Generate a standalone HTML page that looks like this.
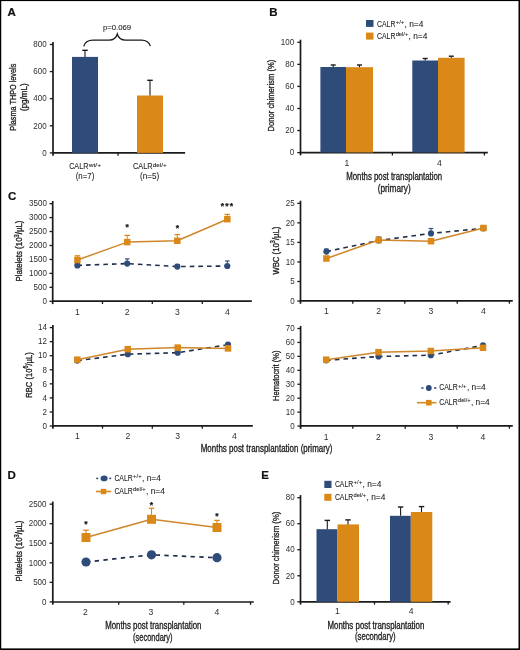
<!DOCTYPE html>
<html><head><meta charset="utf-8"><title>Figure</title>
<style>
html,body{margin:0;padding:0;background:#fff;}
body{width:520px;height:650px;overflow:hidden;}
svg{display:block;font-family:"Liberation Sans", sans-serif;will-change:transform;}
text{stroke:#222;stroke-width:0.22px;}
text.n{stroke-width:0;fill:#2e2e2e;}
text.l{stroke-width:0.08px;}
text.t{stroke-width:0.32px;}
</style></head>
<body>
<svg width="520" height="650" viewBox="0 0 520 650" fill="#222222">
<rect x="0" y="0" width="520" height="650" fill="#fff"/>
<text x="7.4" y="15.8" font-size="11.5" font-weight="bold" fill="#111">A</text>
<line x1="53" y1="41.9" x2="53" y2="155.7" stroke="#1a1a1a" stroke-width="1.7" />
<line x1="49.8" y1="44.5" x2="53" y2="44.5" stroke="#1a1a1a" stroke-width="1.3" />
<text x="46.6" y="47.25" font-size="8.6" class="n" text-anchor="end" textLength="13.35" lengthAdjust="spacingAndGlyphs">800</text>
<line x1="49.8" y1="71.6" x2="53" y2="71.6" stroke="#1a1a1a" stroke-width="1.3" />
<text x="46.6" y="74.35" font-size="8.6" class="n" text-anchor="end" textLength="13.35" lengthAdjust="spacingAndGlyphs">600</text>
<line x1="49.8" y1="98.7" x2="53" y2="98.7" stroke="#1a1a1a" stroke-width="1.3" />
<text x="46.6" y="101.45" font-size="8.6" class="n" text-anchor="end" textLength="13.35" lengthAdjust="spacingAndGlyphs">400</text>
<line x1="49.8" y1="125.8" x2="53" y2="125.8" stroke="#1a1a1a" stroke-width="1.3" />
<text x="46.6" y="128.55" font-size="8.6" class="n" text-anchor="end" textLength="13.35" lengthAdjust="spacingAndGlyphs">200</text>
<line x1="49.8" y1="152.9" x2="53" y2="152.9" stroke="#1a1a1a" stroke-width="1.3" />
<text x="46.6" y="155.65" font-size="8.6" class="n" text-anchor="end" textLength="4.45" lengthAdjust="spacingAndGlyphs">0</text>
<line x1="53" y1="152.9" x2="185.1" y2="152.9" stroke="#1a1a1a" stroke-width="1.7" />
<line x1="118" y1="152.9" x2="118" y2="155.7" stroke="#1a1a1a" stroke-width="1.3" />
<rect x="72" y="56.9" width="26" height="96" fill="#2e4b7a"/>
<rect x="137" y="95.5" width="26" height="57.4" fill="#da8918"/>
<line x1="85" y1="56.9" x2="85" y2="50.3" stroke="#1a1a1a" stroke-width="1.1" />
<line x1="82.25" y1="50.3" x2="87.75" y2="50.3" stroke="#1a1a1a" stroke-width="1.4" />
<line x1="150" y1="95.5" x2="150" y2="80.3" stroke="#1a1a1a" stroke-width="1.1" />
<line x1="147.25" y1="80.3" x2="152.75" y2="80.3" stroke="#1a1a1a" stroke-width="1.4" />
<path d="M83.7,46.3 C84.8,42 87.5,40.1 93,40.1 L109,40.1 C113.5,40.1 116.2,38 117.3,34 C118.4,38 121.1,40.1 125.6,40.1 L141.5,40.1 C146.8,40.1 149.3,42.3 150.4,46.2" fill="none" stroke="#1a1a1a" stroke-width="1.25"/>
<text x="102.9" y="30.2" font-size="7.8" class="l" textLength="28.3" lengthAdjust="spacingAndGlyphs">p=0.069</text>
<text x="15.9" y="97.2" font-size="9" class="t" text-anchor="middle" textLength="67" lengthAdjust="spacingAndGlyphs" transform="rotate(-90 15.9 97.2)">Plasma THPO levels</text>
<text x="26.9" y="97.2" font-size="9" class="t" text-anchor="middle" textLength="27.6" lengthAdjust="spacingAndGlyphs" transform="rotate(-90 26.9 97.2)">(pg/mL)</text>
<text x="69.15" y="169.4" font-size="8.9" class="l" textLength="19.3" lengthAdjust="spacingAndGlyphs">CALR</text>
<text x="88.65" y="166.6" font-size="6.2" class="l" textLength="12.4" lengthAdjust="spacingAndGlyphs">wt/+</text>
<text x="85" y="178.7" font-size="8.8" class="l" text-anchor="middle" textLength="18.6" lengthAdjust="spacingAndGlyphs">(n=7)</text>
<text x="133" y="169.4" font-size="8.9" class="l" textLength="19.6" lengthAdjust="spacingAndGlyphs">CALR</text>
<text x="152.8" y="166.6" font-size="6.2" class="l" textLength="14" lengthAdjust="spacingAndGlyphs">del/+</text>
<text x="149.7" y="178.7" font-size="8.8" class="l" text-anchor="middle" textLength="19.2" lengthAdjust="spacingAndGlyphs">(n=5)</text>
<text x="269.3" y="16.2" font-size="11.5" font-weight="bold" fill="#111">B</text>
<line x1="300.5" y1="39.7" x2="300.5" y2="155.4" stroke="#1a1a1a" stroke-width="1.7" />
<line x1="297.3" y1="42.3" x2="300.5" y2="42.3" stroke="#1a1a1a" stroke-width="1.3" />
<text x="294.2" y="45.05" font-size="8.6" class="n" text-anchor="end" textLength="13.35" lengthAdjust="spacingAndGlyphs">100</text>
<line x1="297.3" y1="64.36" x2="300.5" y2="64.36" stroke="#1a1a1a" stroke-width="1.3" />
<text x="294.2" y="67.11" font-size="8.6" class="n" text-anchor="end" textLength="8.9" lengthAdjust="spacingAndGlyphs">80</text>
<line x1="297.3" y1="86.42" x2="300.5" y2="86.42" stroke="#1a1a1a" stroke-width="1.3" />
<text x="294.2" y="89.17" font-size="8.6" class="n" text-anchor="end" textLength="8.9" lengthAdjust="spacingAndGlyphs">60</text>
<line x1="297.3" y1="108.48" x2="300.5" y2="108.48" stroke="#1a1a1a" stroke-width="1.3" />
<text x="294.2" y="111.23" font-size="8.6" class="n" text-anchor="end" textLength="8.9" lengthAdjust="spacingAndGlyphs">40</text>
<line x1="297.3" y1="130.54" x2="300.5" y2="130.54" stroke="#1a1a1a" stroke-width="1.3" />
<text x="294.2" y="133.29" font-size="8.6" class="n" text-anchor="end" textLength="8.9" lengthAdjust="spacingAndGlyphs">20</text>
<line x1="297.3" y1="152.6" x2="300.5" y2="152.6" stroke="#1a1a1a" stroke-width="1.3" />
<text x="294.2" y="155.35" font-size="8.6" class="n" text-anchor="end" textLength="4.45" lengthAdjust="spacingAndGlyphs">0</text>
<line x1="300.5" y1="152.7" x2="487.8" y2="152.7" stroke="#1a1a1a" stroke-width="1.7" />
<line x1="392.4" y1="152.7" x2="392.4" y2="155.5" stroke="#1a1a1a" stroke-width="1.3" />
<line x1="484.4" y1="152.7" x2="484.4" y2="155.5" stroke="#1a1a1a" stroke-width="1.3" />
<rect x="320.4" y="67" width="25.6" height="85.5" fill="#2e4b7a"/>
<rect x="346" y="67.2" width="27" height="85.3" fill="#da8918"/>
<rect x="412.3" y="60.5" width="25.7" height="92" fill="#2e4b7a"/>
<rect x="438" y="57.8" width="26.6" height="94.7" fill="#da8918"/>
<line x1="333.2" y1="67" x2="333.2" y2="65" stroke="#1a1a1a" stroke-width="1.1" />
<line x1="330.7" y1="65" x2="335.7" y2="65" stroke="#1a1a1a" stroke-width="1.4" />
<line x1="359.5" y1="67.2" x2="359.5" y2="65" stroke="#1a1a1a" stroke-width="1.1" />
<line x1="357" y1="65" x2="362" y2="65" stroke="#1a1a1a" stroke-width="1.4" />
<line x1="425.2" y1="60.5" x2="425.2" y2="58.5" stroke="#1a1a1a" stroke-width="1.1" />
<line x1="422.7" y1="58.5" x2="427.7" y2="58.5" stroke="#1a1a1a" stroke-width="1.4" />
<line x1="451.3" y1="57.8" x2="451.3" y2="56.2" stroke="#1a1a1a" stroke-width="1.1" />
<line x1="448.8" y1="56.2" x2="453.8" y2="56.2" stroke="#1a1a1a" stroke-width="1.4" />
<rect x="366" y="20" width="7.5" height="6.9" fill="#2e4b7a"/>
<rect x="366" y="32.6" width="7.5" height="7" fill="#da8918"/>
<text x="377" y="26.6" font-size="8.6" class="l" textLength="18.4" lengthAdjust="spacingAndGlyphs">CALR</text>
<text x="395.7" y="23.7" font-size="5.9" class="l" textLength="8.6" lengthAdjust="spacingAndGlyphs">+/+</text>
<text x="404.6" y="26.6" font-size="8.6" class="l" textLength="18.8" lengthAdjust="spacingAndGlyphs">, n=4</text>
<text x="377" y="38.9" font-size="8.6" class="l" textLength="18.4" lengthAdjust="spacingAndGlyphs">CALR</text>
<text x="395.7" y="36" font-size="5.9" class="l" textLength="12.6" lengthAdjust="spacingAndGlyphs">del/+</text>
<text x="408.6" y="38.9" font-size="8.6" class="l" textLength="18.8" lengthAdjust="spacingAndGlyphs">, n=4</text>
<text x="347" y="165.8" font-size="8.6" class="n" text-anchor="middle">1</text>
<text x="439.5" y="165.8" font-size="8.6" class="n" text-anchor="middle">4</text>
<text x="394.2" y="179.9" font-size="10" class="t" text-anchor="middle" textLength="96" lengthAdjust="spacingAndGlyphs">Months post transplantation</text>
<text x="394.2" y="191.7" font-size="10" class="t" text-anchor="middle" textLength="33" lengthAdjust="spacingAndGlyphs">(primary)</text>
<text x="274.2" y="95.6" font-size="9" class="t" text-anchor="middle" textLength="72" lengthAdjust="spacingAndGlyphs" transform="rotate(-90 274.2 95.6)">Donor chimerism (%)</text>
<text x="8" y="199.9" font-size="11.5" font-weight="bold" fill="#111">C</text>
<line x1="52.7" y1="201.05" x2="52.7" y2="304.1" stroke="#1a1a1a" stroke-width="1.7" />
<line x1="49.5" y1="203.65" x2="52.7" y2="203.65" stroke="#1a1a1a" stroke-width="1.3" />
<text x="46.9" y="206.4" font-size="8.6" class="n" text-anchor="end" textLength="17.8" lengthAdjust="spacingAndGlyphs">3500</text>
<line x1="49.5" y1="217.6" x2="52.7" y2="217.6" stroke="#1a1a1a" stroke-width="1.3" />
<text x="46.9" y="220.35" font-size="8.6" class="n" text-anchor="end" textLength="17.8" lengthAdjust="spacingAndGlyphs">3000</text>
<line x1="49.5" y1="231.55" x2="52.7" y2="231.55" stroke="#1a1a1a" stroke-width="1.3" />
<text x="46.9" y="234.3" font-size="8.6" class="n" text-anchor="end" textLength="17.8" lengthAdjust="spacingAndGlyphs">2500</text>
<line x1="49.5" y1="245.5" x2="52.7" y2="245.5" stroke="#1a1a1a" stroke-width="1.3" />
<text x="46.9" y="248.25" font-size="8.6" class="n" text-anchor="end" textLength="17.8" lengthAdjust="spacingAndGlyphs">2000</text>
<line x1="49.5" y1="259.45" x2="52.7" y2="259.45" stroke="#1a1a1a" stroke-width="1.3" />
<text x="46.9" y="262.2" font-size="8.6" class="n" text-anchor="end" textLength="17.8" lengthAdjust="spacingAndGlyphs">1500</text>
<line x1="49.5" y1="273.4" x2="52.7" y2="273.4" stroke="#1a1a1a" stroke-width="1.3" />
<text x="46.9" y="276.15" font-size="8.6" class="n" text-anchor="end" textLength="17.8" lengthAdjust="spacingAndGlyphs">1000</text>
<line x1="49.5" y1="287.35" x2="52.7" y2="287.35" stroke="#1a1a1a" stroke-width="1.3" />
<text x="46.9" y="290.1" font-size="8.6" class="n" text-anchor="end" textLength="13.35" lengthAdjust="spacingAndGlyphs">500</text>
<line x1="49.5" y1="301.3" x2="52.7" y2="301.3" stroke="#1a1a1a" stroke-width="1.3" />
<text x="46.9" y="304.05" font-size="8.6" class="n" text-anchor="end" textLength="4.45" lengthAdjust="spacingAndGlyphs">0</text>
<line x1="52.7" y1="301.2" x2="251.8" y2="301.2" stroke="#1a1a1a" stroke-width="1.7" />
<line x1="102.5" y1="301.2" x2="102.5" y2="304" stroke="#1a1a1a" stroke-width="1.3" />
<line x1="152.3" y1="301.2" x2="152.3" y2="304" stroke="#1a1a1a" stroke-width="1.3" />
<line x1="202.3" y1="301.2" x2="202.3" y2="304" stroke="#1a1a1a" stroke-width="1.3" />
<text x="77.4" y="314.8" font-size="8.6" class="n" text-anchor="middle">1</text>
<text x="127.2" y="314.8" font-size="8.6" class="n" text-anchor="middle">2</text>
<text x="177.3" y="314.8" font-size="8.6" class="n" text-anchor="middle">3</text>
<text x="227.3" y="314.8" font-size="8.6" class="n" text-anchor="middle">4</text>
<polyline points="77.4,265.4 127.2,263.6 177.3,266.6 227.3,266" fill="none" stroke="#202d4c" stroke-width="1.6" stroke-dasharray="4.6,4.05" stroke-linejoin="round"/>
<line x1="77.4" y1="265.4" x2="77.4" y2="262.5" stroke="#2e4b7a" stroke-width="1" />
<line x1="75.15" y1="262.5" x2="79.65" y2="262.5" stroke="#2e4b7a" stroke-width="1.2" />
<circle cx="77.4" cy="265.4" r="3.1" fill="#2e4b7a"/>
<line x1="127.2" y1="263.6" x2="127.2" y2="258.9" stroke="#2e4b7a" stroke-width="1" />
<line x1="124.95" y1="258.9" x2="129.45" y2="258.9" stroke="#2e4b7a" stroke-width="1.2" />
<circle cx="127.2" cy="263.6" r="3.1" fill="#2e4b7a"/>
<line x1="177.3" y1="266.6" x2="177.3" y2="264.5" stroke="#2e4b7a" stroke-width="1" />
<line x1="175.05" y1="264.5" x2="179.55" y2="264.5" stroke="#2e4b7a" stroke-width="1.2" />
<circle cx="177.3" cy="266.6" r="3.1" fill="#2e4b7a"/>
<line x1="227.3" y1="266" x2="227.3" y2="261" stroke="#2e4b7a" stroke-width="1" />
<line x1="225.05" y1="261" x2="229.55" y2="261" stroke="#2e4b7a" stroke-width="1.2" />
<circle cx="227.3" cy="266" r="3.1" fill="#2e4b7a"/>
<polyline points="77.4,260 127.2,242.1 177.3,240.8 227.3,219.2" fill="none" stroke="#d0862a" stroke-width="1.5" stroke-linejoin="round"/>
<line x1="77.4" y1="260" x2="77.4" y2="255.8" stroke="#da8918" stroke-width="1" />
<line x1="74.65" y1="255.8" x2="80.15" y2="255.8" stroke="#da8918" stroke-width="1.3" />
<rect x="74.15" y="256.75" width="6.5" height="6.5" fill="#da8918"/>
<line x1="127.2" y1="242.1" x2="127.2" y2="235.4" stroke="#da8918" stroke-width="1" />
<line x1="124.45" y1="235.4" x2="129.95" y2="235.4" stroke="#da8918" stroke-width="1.3" />
<rect x="123.95" y="238.85" width="6.5" height="6.5" fill="#da8918"/>
<line x1="177.3" y1="240.8" x2="177.3" y2="234.6" stroke="#da8918" stroke-width="1" />
<line x1="174.55" y1="234.6" x2="180.05" y2="234.6" stroke="#da8918" stroke-width="1.3" />
<rect x="174.05" y="237.55" width="6.5" height="6.5" fill="#da8918"/>
<line x1="227.3" y1="219.2" x2="227.3" y2="214.4" stroke="#da8918" stroke-width="1" />
<line x1="224.55" y1="214.4" x2="230.05" y2="214.4" stroke="#da8918" stroke-width="1.3" />
<rect x="224.05" y="215.95" width="6.5" height="6.5" fill="#da8918"/>
<text x="125.57" y="229.59" font-size="8.6" font-weight="bold" fill="#111">*</text>
<text x="175.67" y="230.79" font-size="8.6" font-weight="bold" fill="#111">*</text>
<text x="220.77" y="208.99" font-size="8.6" font-weight="bold" fill="#111">*</text>
<text x="225.27" y="208.99" font-size="8.6" font-weight="bold" fill="#111">*</text>
<text x="229.77" y="208.99" font-size="8.6" font-weight="bold" fill="#111">*</text>
<text x="22.2" y="251" font-size="9" class="t" text-anchor="middle" textLength="61" lengthAdjust="spacingAndGlyphs" transform="rotate(-90 22.2 251)">Platelets (10<tspan font-size="6.4" dy="-3.2">3</tspan><tspan dy="3.2">/µL)</tspan></text>
<line x1="300.5" y1="200.7" x2="300.5" y2="303.8" stroke="#1a1a1a" stroke-width="1.7" />
<line x1="297.3" y1="203.3" x2="300.5" y2="203.3" stroke="#1a1a1a" stroke-width="1.3" />
<text x="294.7" y="206.05" font-size="8.6" class="n" text-anchor="end" textLength="8.9" lengthAdjust="spacingAndGlyphs">25</text>
<line x1="297.3" y1="222.85" x2="300.5" y2="222.85" stroke="#1a1a1a" stroke-width="1.3" />
<text x="294.7" y="225.6" font-size="8.6" class="n" text-anchor="end" textLength="8.9" lengthAdjust="spacingAndGlyphs">20</text>
<line x1="297.3" y1="242.4" x2="300.5" y2="242.4" stroke="#1a1a1a" stroke-width="1.3" />
<text x="294.7" y="245.15" font-size="8.6" class="n" text-anchor="end" textLength="8.9" lengthAdjust="spacingAndGlyphs">15</text>
<line x1="297.3" y1="261.95" x2="300.5" y2="261.95" stroke="#1a1a1a" stroke-width="1.3" />
<text x="294.7" y="264.7" font-size="8.6" class="n" text-anchor="end" textLength="8.9" lengthAdjust="spacingAndGlyphs">10</text>
<line x1="297.3" y1="281.5" x2="300.5" y2="281.5" stroke="#1a1a1a" stroke-width="1.3" />
<text x="294.7" y="284.25" font-size="8.6" class="n" text-anchor="end" textLength="4.45" lengthAdjust="spacingAndGlyphs">5</text>
<line x1="297.3" y1="301.05" x2="300.5" y2="301.05" stroke="#1a1a1a" stroke-width="1.3" />
<text x="294.7" y="303.8" font-size="8.6" class="n" text-anchor="end" textLength="4.45" lengthAdjust="spacingAndGlyphs">0</text>
<line x1="300.5" y1="300.9" x2="512.8" y2="300.9" stroke="#1a1a1a" stroke-width="1.7" />
<line x1="352.8" y1="300.9" x2="352.8" y2="303.7" stroke="#1a1a1a" stroke-width="1.3" />
<line x1="404.8" y1="300.9" x2="404.8" y2="303.7" stroke="#1a1a1a" stroke-width="1.3" />
<line x1="457.2" y1="300.9" x2="457.2" y2="303.7" stroke="#1a1a1a" stroke-width="1.3" />
<line x1="509.4" y1="300.9" x2="509.4" y2="303.7" stroke="#1a1a1a" stroke-width="1.3" />
<text x="326.4" y="313.9" font-size="8.6" class="n" text-anchor="middle">1</text>
<text x="378.7" y="313.9" font-size="8.6" class="n" text-anchor="middle">2</text>
<text x="431" y="313.9" font-size="8.6" class="n" text-anchor="middle">3</text>
<text x="483.4" y="313.9" font-size="8.6" class="n" text-anchor="middle">4</text>
<polyline points="326.4,251.6 378.7,240.5 431,233.4 483.4,228.3" fill="none" stroke="#202d4c" stroke-width="1.6" stroke-dasharray="4.6,4.05" stroke-linejoin="round"/>
<line x1="326.4" y1="251.6" x2="326.4" y2="249" stroke="#2e4b7a" stroke-width="1" />
<line x1="324.15" y1="249" x2="328.65" y2="249" stroke="#2e4b7a" stroke-width="1.2" />
<circle cx="326.4" cy="251.6" r="3.1" fill="#2e4b7a"/>
<line x1="378.7" y1="240.5" x2="378.7" y2="237" stroke="#2e4b7a" stroke-width="1" />
<line x1="376.45" y1="237" x2="380.95" y2="237" stroke="#2e4b7a" stroke-width="1.2" />
<circle cx="378.7" cy="240.5" r="3.1" fill="#2e4b7a"/>
<line x1="431" y1="233.4" x2="431" y2="228.5" stroke="#2e4b7a" stroke-width="1" />
<line x1="428.75" y1="228.5" x2="433.25" y2="228.5" stroke="#2e4b7a" stroke-width="1.2" />
<circle cx="431" cy="233.4" r="3.1" fill="#2e4b7a"/>
<line x1="483.4" y1="228.3" x2="483.4" y2="226" stroke="#2e4b7a" stroke-width="1" />
<line x1="481.15" y1="226" x2="485.65" y2="226" stroke="#2e4b7a" stroke-width="1.2" />
<circle cx="483.4" cy="228.3" r="3.1" fill="#2e4b7a"/>
<polyline points="326.4,258.5 378.7,240 431,241.2 483.4,228" fill="none" stroke="#d0862a" stroke-width="1.5" stroke-linejoin="round"/>
<line x1="326.4" y1="258.5" x2="326.4" y2="256.5" stroke="#da8918" stroke-width="1" />
<line x1="323.9" y1="256.5" x2="328.9" y2="256.5" stroke="#da8918" stroke-width="1.3" />
<rect x="323.15" y="255.25" width="6.5" height="6.5" fill="#da8918"/>
<line x1="378.7" y1="240" x2="378.7" y2="237.5" stroke="#da8918" stroke-width="1" />
<line x1="376.2" y1="237.5" x2="381.2" y2="237.5" stroke="#da8918" stroke-width="1.3" />
<rect x="375.45" y="236.75" width="6.5" height="6.5" fill="#da8918"/>
<line x1="431" y1="241.2" x2="431" y2="239.5" stroke="#da8918" stroke-width="1" />
<line x1="428.5" y1="239.5" x2="433.5" y2="239.5" stroke="#da8918" stroke-width="1.3" />
<rect x="427.75" y="237.95" width="6.5" height="6.5" fill="#da8918"/>
<line x1="483.4" y1="228" x2="483.4" y2="227" stroke="#da8918" stroke-width="1" />
<line x1="480.9" y1="227" x2="485.9" y2="227" stroke="#da8918" stroke-width="1.3" />
<rect x="480.15" y="224.75" width="6.5" height="6.5" fill="#da8918"/>
<text x="278.6" y="250.6" font-size="9" class="t" text-anchor="middle" textLength="48" lengthAdjust="spacingAndGlyphs" transform="rotate(-90 278.6 250.6)">WBC (10<tspan font-size="6.4" dy="-3.2">3</tspan><tspan dy="3.2">/µL)</tspan></text>
<line x1="52.9" y1="325" x2="52.9" y2="428.8" stroke="#1a1a1a" stroke-width="1.7" />
<line x1="49.7" y1="327.6" x2="52.9" y2="327.6" stroke="#1a1a1a" stroke-width="1.3" />
<text x="46.9" y="330.35" font-size="8.6" class="n" text-anchor="end" textLength="8.9" lengthAdjust="spacingAndGlyphs">14</text>
<line x1="49.7" y1="341.66" x2="52.9" y2="341.66" stroke="#1a1a1a" stroke-width="1.3" />
<text x="46.9" y="344.41" font-size="8.6" class="n" text-anchor="end" textLength="8.9" lengthAdjust="spacingAndGlyphs">12</text>
<line x1="49.7" y1="355.72" x2="52.9" y2="355.72" stroke="#1a1a1a" stroke-width="1.3" />
<text x="46.9" y="358.47" font-size="8.6" class="n" text-anchor="end" textLength="8.9" lengthAdjust="spacingAndGlyphs">10</text>
<line x1="49.7" y1="369.78" x2="52.9" y2="369.78" stroke="#1a1a1a" stroke-width="1.3" />
<text x="46.9" y="372.53" font-size="8.6" class="n" text-anchor="end" textLength="4.45" lengthAdjust="spacingAndGlyphs">8</text>
<line x1="49.7" y1="383.84" x2="52.9" y2="383.84" stroke="#1a1a1a" stroke-width="1.3" />
<text x="46.9" y="386.59" font-size="8.6" class="n" text-anchor="end" textLength="4.45" lengthAdjust="spacingAndGlyphs">6</text>
<line x1="49.7" y1="397.9" x2="52.9" y2="397.9" stroke="#1a1a1a" stroke-width="1.3" />
<text x="46.9" y="400.65" font-size="8.6" class="n" text-anchor="end" textLength="4.45" lengthAdjust="spacingAndGlyphs">4</text>
<line x1="49.7" y1="411.96" x2="52.9" y2="411.96" stroke="#1a1a1a" stroke-width="1.3" />
<text x="46.9" y="414.71" font-size="8.6" class="n" text-anchor="end" textLength="4.45" lengthAdjust="spacingAndGlyphs">2</text>
<line x1="49.7" y1="426.02" x2="52.9" y2="426.02" stroke="#1a1a1a" stroke-width="1.3" />
<text x="46.9" y="428.77" font-size="8.6" class="n" text-anchor="end" textLength="4.45" lengthAdjust="spacingAndGlyphs">0</text>
<line x1="52.9" y1="425.9" x2="252.8" y2="425.9" stroke="#1a1a1a" stroke-width="1.7" />
<line x1="102.5" y1="425.9" x2="102.5" y2="428.7" stroke="#1a1a1a" stroke-width="1.3" />
<line x1="152.3" y1="425.9" x2="152.3" y2="428.7" stroke="#1a1a1a" stroke-width="1.3" />
<line x1="202.3" y1="425.9" x2="202.3" y2="428.7" stroke="#1a1a1a" stroke-width="1.3" />
<text x="77.3" y="439.2" font-size="8.6" class="n" text-anchor="middle">1</text>
<text x="127.8" y="439.2" font-size="8.6" class="n" text-anchor="middle">2</text>
<text x="177.7" y="439.2" font-size="8.6" class="n" text-anchor="middle">3</text>
<text x="234.4" y="439.2" font-size="8.6" class="n" text-anchor="middle">4</text>
<polyline points="77.3,360.6 127.8,354.2 177.7,352.7 228,344.7" fill="none" stroke="#202d4c" stroke-width="1.6" stroke-dasharray="4.6,4.05" stroke-linejoin="round"/>
<circle cx="77.3" cy="360.6" r="3.1" fill="#2e4b7a"/>
<circle cx="127.8" cy="354.2" r="3.1" fill="#2e4b7a"/>
<circle cx="177.7" cy="352.7" r="3.1" fill="#2e4b7a"/>
<circle cx="228" cy="344.7" r="3.1" fill="#2e4b7a"/>
<polyline points="77.3,359.7 127.8,349.2 177.7,347.6 228,348.4" fill="none" stroke="#d0862a" stroke-width="1.5" stroke-linejoin="round"/>
<rect x="74.05" y="356.45" width="6.5" height="6.5" fill="#da8918"/>
<rect x="124.55" y="345.95" width="6.5" height="6.5" fill="#da8918"/>
<rect x="174.45" y="344.35" width="6.5" height="6.5" fill="#da8918"/>
<rect x="224.75" y="345.15" width="6.5" height="6.5" fill="#da8918"/>
<text x="31.5" y="375" font-size="9" class="t" text-anchor="middle" textLength="45.4" lengthAdjust="spacingAndGlyphs" transform="rotate(-90 31.5 375)">RBC (10<tspan font-size="6.4" dy="-3.2">6</tspan><tspan dy="3.2">/µL)</tspan></text>
<text x="266.6" y="451.5" font-size="10" class="t" text-anchor="middle" textLength="131.7" lengthAdjust="spacingAndGlyphs">Months post transplantation (primary)</text>
<line x1="300.6" y1="325.9" x2="300.6" y2="428.9" stroke="#1a1a1a" stroke-width="1.7" />
<line x1="297.4" y1="328.5" x2="300.6" y2="328.5" stroke="#1a1a1a" stroke-width="1.3" />
<text x="294.7" y="331.25" font-size="8.6" class="n" text-anchor="end" textLength="8.9" lengthAdjust="spacingAndGlyphs">70</text>
<line x1="297.4" y1="342.44" x2="300.6" y2="342.44" stroke="#1a1a1a" stroke-width="1.3" />
<text x="294.7" y="345.19" font-size="8.6" class="n" text-anchor="end" textLength="8.9" lengthAdjust="spacingAndGlyphs">60</text>
<line x1="297.4" y1="356.38" x2="300.6" y2="356.38" stroke="#1a1a1a" stroke-width="1.3" />
<text x="294.7" y="359.13" font-size="8.6" class="n" text-anchor="end" textLength="8.9" lengthAdjust="spacingAndGlyphs">50</text>
<line x1="297.4" y1="370.32" x2="300.6" y2="370.32" stroke="#1a1a1a" stroke-width="1.3" />
<text x="294.7" y="373.07" font-size="8.6" class="n" text-anchor="end" textLength="8.9" lengthAdjust="spacingAndGlyphs">40</text>
<line x1="297.4" y1="384.26" x2="300.6" y2="384.26" stroke="#1a1a1a" stroke-width="1.3" />
<text x="294.7" y="387.01" font-size="8.6" class="n" text-anchor="end" textLength="8.9" lengthAdjust="spacingAndGlyphs">30</text>
<line x1="297.4" y1="398.2" x2="300.6" y2="398.2" stroke="#1a1a1a" stroke-width="1.3" />
<text x="294.7" y="400.95" font-size="8.6" class="n" text-anchor="end" textLength="8.9" lengthAdjust="spacingAndGlyphs">20</text>
<line x1="297.4" y1="412.14" x2="300.6" y2="412.14" stroke="#1a1a1a" stroke-width="1.3" />
<text x="294.7" y="414.89" font-size="8.6" class="n" text-anchor="end" textLength="8.9" lengthAdjust="spacingAndGlyphs">10</text>
<line x1="297.4" y1="426.08" x2="300.6" y2="426.08" stroke="#1a1a1a" stroke-width="1.3" />
<text x="294.7" y="428.83" font-size="8.6" class="n" text-anchor="end" textLength="4.45" lengthAdjust="spacingAndGlyphs">0</text>
<line x1="300.6" y1="425.9" x2="512.8" y2="425.9" stroke="#1a1a1a" stroke-width="1.7" />
<line x1="352.8" y1="425.9" x2="352.8" y2="428.7" stroke="#1a1a1a" stroke-width="1.3" />
<line x1="405.2" y1="425.9" x2="405.2" y2="428.7" stroke="#1a1a1a" stroke-width="1.3" />
<line x1="457.2" y1="425.9" x2="457.2" y2="428.7" stroke="#1a1a1a" stroke-width="1.3" />
<line x1="509.4" y1="425.9" x2="509.4" y2="428.7" stroke="#1a1a1a" stroke-width="1.3" />
<text x="326.2" y="439.9" font-size="8.6" class="n" text-anchor="middle">1</text>
<text x="378.5" y="439.9" font-size="8.6" class="n" text-anchor="middle">2</text>
<text x="430.8" y="439.9" font-size="8.6" class="n" text-anchor="middle">3</text>
<text x="483" y="439.9" font-size="8.6" class="n" text-anchor="middle">4</text>
<polyline points="326.2,360.3 378.5,356.5 430.8,355.2 483,345.4" fill="none" stroke="#202d4c" stroke-width="1.6" stroke-dasharray="4.6,4.05" stroke-linejoin="round"/>
<circle cx="326.2" cy="360.3" r="3.1" fill="#2e4b7a"/>
<circle cx="378.5" cy="356.5" r="3.1" fill="#2e4b7a"/>
<circle cx="430.8" cy="355.2" r="3.1" fill="#2e4b7a"/>
<circle cx="483" cy="345.4" r="3.1" fill="#2e4b7a"/>
<polyline points="326.2,359.7 378.5,352.2 430.8,351 483,347.8" fill="none" stroke="#d0862a" stroke-width="1.5" stroke-linejoin="round"/>
<rect x="322.95" y="356.45" width="6.5" height="6.5" fill="#da8918"/>
<rect x="375.25" y="348.95" width="6.5" height="6.5" fill="#da8918"/>
<rect x="427.55" y="347.75" width="6.5" height="6.5" fill="#da8918"/>
<rect x="479.75" y="344.55" width="6.5" height="6.5" fill="#da8918"/>
<text x="279.2" y="375.7" font-size="9" class="t" text-anchor="middle" textLength="50.4" lengthAdjust="spacingAndGlyphs" transform="rotate(-90 279.2 375.7)">Hematocrit (%)</text>
<line x1="421.3" y1="388" x2="423.6" y2="388" stroke="#2e4b7a" stroke-width="1.5" />
<line x1="434" y1="388" x2="436.4" y2="388" stroke="#2e4b7a" stroke-width="1.5" />
<circle cx="428.8" cy="388" r="2.9" fill="#2e4b7a"/>
<line x1="417" y1="402.7" x2="436.4" y2="402.7" stroke="#da8918" stroke-width="1.6" />
<rect x="426" y="399.9" width="5.6" height="5.6" fill="#da8918"/>
<text x="439.3" y="390.4" font-size="8.6" class="l" textLength="18.4" lengthAdjust="spacingAndGlyphs">CALR</text>
<text x="458" y="387.5" font-size="5.9" class="l" textLength="8.6" lengthAdjust="spacingAndGlyphs">+/+</text>
<text x="466.9" y="390.4" font-size="8.6" class="l" textLength="18.8" lengthAdjust="spacingAndGlyphs">, n=4</text>
<text x="439.3" y="405.2" font-size="8.6" class="l" textLength="18.4" lengthAdjust="spacingAndGlyphs">CALR</text>
<text x="458" y="402.3" font-size="5.9" class="l" textLength="12.6" lengthAdjust="spacingAndGlyphs">del/+</text>
<text x="470.9" y="405.2" font-size="8.6" class="l" textLength="18.8" lengthAdjust="spacingAndGlyphs">, n=4</text>
<text x="7.6" y="478.5" font-size="11.5" font-weight="bold" fill="#111">D</text>
<line x1="52.8" y1="501.55" x2="52.8" y2="604.7" stroke="#1a1a1a" stroke-width="1.7" />
<line x1="49.6" y1="504.15" x2="52.8" y2="504.15" stroke="#1a1a1a" stroke-width="1.3" />
<text x="46.5" y="506.9" font-size="8.6" class="n" text-anchor="end" textLength="17.8" lengthAdjust="spacingAndGlyphs">2500</text>
<line x1="49.6" y1="523.7" x2="52.8" y2="523.7" stroke="#1a1a1a" stroke-width="1.3" />
<text x="46.5" y="526.45" font-size="8.6" class="n" text-anchor="end" textLength="17.8" lengthAdjust="spacingAndGlyphs">2000</text>
<line x1="49.6" y1="543.25" x2="52.8" y2="543.25" stroke="#1a1a1a" stroke-width="1.3" />
<text x="46.5" y="546" font-size="8.6" class="n" text-anchor="end" textLength="17.8" lengthAdjust="spacingAndGlyphs">1500</text>
<line x1="49.6" y1="562.8" x2="52.8" y2="562.8" stroke="#1a1a1a" stroke-width="1.3" />
<text x="46.5" y="565.55" font-size="8.6" class="n" text-anchor="end" textLength="17.8" lengthAdjust="spacingAndGlyphs">1000</text>
<line x1="49.6" y1="582.35" x2="52.8" y2="582.35" stroke="#1a1a1a" stroke-width="1.3" />
<text x="46.5" y="585.1" font-size="8.6" class="n" text-anchor="end" textLength="13.35" lengthAdjust="spacingAndGlyphs">500</text>
<line x1="49.6" y1="601.9" x2="52.8" y2="601.9" stroke="#1a1a1a" stroke-width="1.3" />
<text x="46.5" y="604.65" font-size="8.6" class="n" text-anchor="end" textLength="4.45" lengthAdjust="spacingAndGlyphs">0</text>
<line x1="52.8" y1="602" x2="253.7" y2="602" stroke="#1a1a1a" stroke-width="1.7" />
<line x1="118.7" y1="602" x2="118.7" y2="604.8" stroke="#1a1a1a" stroke-width="1.3" />
<line x1="183.8" y1="602" x2="183.8" y2="604.8" stroke="#1a1a1a" stroke-width="1.3" />
<line x1="250.5" y1="602" x2="250.5" y2="604.8" stroke="#1a1a1a" stroke-width="1.3" />
<text x="85.5" y="615.2" font-size="8.6" class="n" text-anchor="middle">2</text>
<text x="150.8" y="615.2" font-size="8.6" class="n" text-anchor="middle">3</text>
<text x="217" y="615.2" font-size="8.6" class="n" text-anchor="middle">4</text>
<polyline points="86,562 151.5,554.8 217,557.7" fill="none" stroke="#202d4c" stroke-width="1.7" stroke-dasharray="4.4,4.35" stroke-linejoin="round"/>
<circle cx="86" cy="562" r="4.6" fill="#2e4b7a"/>
<circle cx="151.5" cy="554.8" r="4.6" fill="#2e4b7a"/>
<circle cx="217" cy="557.7" r="4.6" fill="#2e4b7a"/>
<polyline points="86,537.5 151.5,519.3 217,527.5" fill="none" stroke="#d0862a" stroke-width="1.6" stroke-linejoin="round"/>
<line x1="86" y1="537.5" x2="86" y2="530.2" stroke="#da8918" stroke-width="1.1" />
<line x1="83.25" y1="530.2" x2="88.75" y2="530.2" stroke="#da8918" stroke-width="1.3" />
<rect x="81.5" y="533" width="9" height="9" fill="#da8918"/>
<line x1="151.5" y1="519.3" x2="151.5" y2="508.3" stroke="#da8918" stroke-width="1.1" />
<line x1="148.75" y1="508.3" x2="154.25" y2="508.3" stroke="#da8918" stroke-width="1.3" />
<rect x="147" y="514.8" width="9" height="9" fill="#da8918"/>
<line x1="217" y1="527.5" x2="217" y2="520.4" stroke="#da8918" stroke-width="1.1" />
<line x1="214.25" y1="520.4" x2="219.75" y2="520.4" stroke="#da8918" stroke-width="1.3" />
<rect x="212.5" y="523" width="9" height="9" fill="#da8918"/>
<text x="84.37" y="526.89" font-size="8.6" font-weight="bold" fill="#111">*</text>
<text x="149.87" y="507.79" font-size="8.6" font-weight="bold" fill="#111">*</text>
<text x="215.37" y="519.39" font-size="8.6" font-weight="bold" fill="#111">*</text>
<line x1="96.2" y1="478.4" x2="98.2" y2="478.4" stroke="#2e4b7a" stroke-width="1.5" />
<line x1="109.2" y1="478.4" x2="111.2" y2="478.4" stroke="#2e4b7a" stroke-width="1.5" />
<ellipse cx="104.1" cy="478.4" rx="3.5" ry="2.8" fill="#2e4b7a"/>
<line x1="96" y1="491.5" x2="111.2" y2="491.5" stroke="#da8918" stroke-width="1.6" />
<rect x="100.8" y="488.8" width="5.4" height="5.4" fill="#da8918"/>
<text x="114.4" y="481.1" font-size="8.6" class="l" textLength="18.4" lengthAdjust="spacingAndGlyphs">CALR</text>
<text x="133.1" y="478.2" font-size="5.9" class="l" textLength="8.6" lengthAdjust="spacingAndGlyphs">+/+</text>
<text x="142" y="481.1" font-size="8.6" class="l" textLength="18.8" lengthAdjust="spacingAndGlyphs">, n=4</text>
<text x="114.4" y="494.2" font-size="8.6" class="l" textLength="18.4" lengthAdjust="spacingAndGlyphs">CALR</text>
<text x="133.1" y="491.3" font-size="5.9" class="l" textLength="12.6" lengthAdjust="spacingAndGlyphs">del/+</text>
<text x="146" y="494.2" font-size="8.6" class="l" textLength="18.8" lengthAdjust="spacingAndGlyphs">, n=4</text>
<text x="22.2" y="551" font-size="9" class="t" text-anchor="middle" textLength="61" lengthAdjust="spacingAndGlyphs" transform="rotate(-90 22.2 551)">Platelets (10<tspan font-size="6.4" dy="-3.2">3</tspan><tspan dy="3.2">/µL)</tspan></text>
<text x="153.3" y="628.5" font-size="10" class="t" text-anchor="middle" textLength="96.2" lengthAdjust="spacingAndGlyphs">Months post transplantation</text>
<text x="152.8" y="640.9" font-size="10" class="t" text-anchor="middle" textLength="39.6" lengthAdjust="spacingAndGlyphs">(secondary)</text>
<text x="261.2" y="478.8" font-size="11.5" font-weight="bold" fill="#111">E</text>
<line x1="300.5" y1="495.1" x2="300.5" y2="604.6" stroke="#1a1a1a" stroke-width="1.7" />
<line x1="297.3" y1="497.7" x2="300.5" y2="497.7" stroke="#1a1a1a" stroke-width="1.3" />
<text x="294.7" y="500.45" font-size="8.6" class="n" text-anchor="end" textLength="8.9" lengthAdjust="spacingAndGlyphs">80</text>
<line x1="297.3" y1="523.72" x2="300.5" y2="523.72" stroke="#1a1a1a" stroke-width="1.3" />
<text x="294.7" y="526.47" font-size="8.6" class="n" text-anchor="end" textLength="8.9" lengthAdjust="spacingAndGlyphs">60</text>
<line x1="297.3" y1="549.74" x2="300.5" y2="549.74" stroke="#1a1a1a" stroke-width="1.3" />
<text x="294.7" y="552.49" font-size="8.6" class="n" text-anchor="end" textLength="8.9" lengthAdjust="spacingAndGlyphs">40</text>
<line x1="297.3" y1="575.76" x2="300.5" y2="575.76" stroke="#1a1a1a" stroke-width="1.3" />
<text x="294.7" y="578.51" font-size="8.6" class="n" text-anchor="end" textLength="8.9" lengthAdjust="spacingAndGlyphs">20</text>
<line x1="297.3" y1="601.78" x2="300.5" y2="601.78" stroke="#1a1a1a" stroke-width="1.3" />
<text x="294.7" y="604.53" font-size="8.6" class="n" text-anchor="end" textLength="4.45" lengthAdjust="spacingAndGlyphs">0</text>
<line x1="300.5" y1="601.8" x2="450.6" y2="601.8" stroke="#1a1a1a" stroke-width="1.7" />
<line x1="374.5" y1="601.8" x2="374.5" y2="604.6" stroke="#1a1a1a" stroke-width="1.3" />
<line x1="448.2" y1="601.8" x2="448.2" y2="604.6" stroke="#1a1a1a" stroke-width="1.3" />
<rect x="316.5" y="529.2" width="21" height="72.6" fill="#2e4b7a"/>
<rect x="337.5" y="524.4" width="21.5" height="77.4" fill="#da8918"/>
<rect x="390" y="515.8" width="20.8" height="86" fill="#2e4b7a"/>
<rect x="410.8" y="512" width="21.5" height="89.8" fill="#da8918"/>
<line x1="327.3" y1="529.2" x2="327.3" y2="520.4" stroke="#1a1a1a" stroke-width="1.1" />
<line x1="324.55" y1="520.4" x2="330.05" y2="520.4" stroke="#1a1a1a" stroke-width="1.4" />
<line x1="348" y1="524.4" x2="348" y2="519.9" stroke="#1a1a1a" stroke-width="1.1" />
<line x1="345.25" y1="519.9" x2="350.75" y2="519.9" stroke="#1a1a1a" stroke-width="1.4" />
<line x1="400.6" y1="515.8" x2="400.6" y2="507" stroke="#1a1a1a" stroke-width="1.1" />
<line x1="397.85" y1="507" x2="403.35" y2="507" stroke="#1a1a1a" stroke-width="1.4" />
<line x1="421.5" y1="512" x2="421.5" y2="506.6" stroke="#1a1a1a" stroke-width="1.1" />
<line x1="418.75" y1="506.6" x2="424.25" y2="506.6" stroke="#1a1a1a" stroke-width="1.4" />
<rect x="324.3" y="480.8" width="7.2" height="7.2" fill="#2e4b7a"/>
<rect x="324.3" y="493.8" width="7.2" height="7" fill="#da8918"/>
<text x="334.9" y="487" font-size="8.6" class="l" textLength="18.4" lengthAdjust="spacingAndGlyphs">CALR</text>
<text x="353.6" y="484.1" font-size="5.9" class="l" textLength="8.6" lengthAdjust="spacingAndGlyphs">+/+</text>
<text x="362.5" y="487" font-size="8.6" class="l" textLength="18.8" lengthAdjust="spacingAndGlyphs">, n=4</text>
<text x="334.9" y="500.1" font-size="8.6" class="l" textLength="18.4" lengthAdjust="spacingAndGlyphs">CALR</text>
<text x="353.6" y="497.2" font-size="5.9" class="l" textLength="12.6" lengthAdjust="spacingAndGlyphs">del/+</text>
<text x="366.5" y="500.1" font-size="8.6" class="l" textLength="18.8" lengthAdjust="spacingAndGlyphs">, n=4</text>
<text x="337.4" y="614.4" font-size="8.6" class="n" text-anchor="middle">1</text>
<text x="411.1" y="614.4" font-size="8.6" class="n" text-anchor="middle">4</text>
<text x="375.9" y="628.5" font-size="10" class="t" text-anchor="middle" textLength="96.9" lengthAdjust="spacingAndGlyphs">Months post transplantation</text>
<text x="375.3" y="639.9" font-size="10" class="t" text-anchor="middle" textLength="40.6" lengthAdjust="spacingAndGlyphs">(secondary)</text>
<text x="279.2" y="548" font-size="9" class="t" text-anchor="middle" textLength="72.8" lengthAdjust="spacingAndGlyphs" transform="rotate(-90 279.2 548)">Donor chimerism (%)</text>
<rect x="0" y="0" width="520" height="1.1" fill="#000"/>
<rect x="0" y="0" width="1.25" height="650" fill="#000"/>
<rect x="518.5" y="0" width="1.5" height="650" fill="#000"/>
<rect x="0" y="648.4" width="520" height="1.6" fill="#000"/>
</svg>
</body></html>
